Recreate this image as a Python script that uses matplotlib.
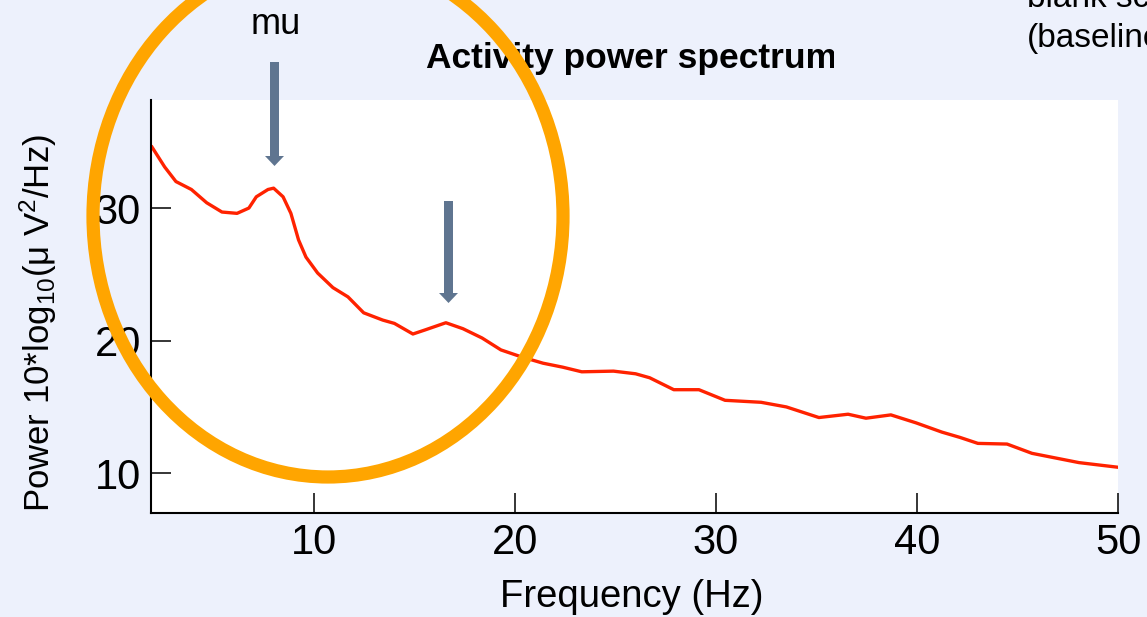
import matplotlib
matplotlib.use("Agg")
import matplotlib.pyplot as plt
from matplotlib.patches import Ellipse, FancyArrow
from matplotlib.transforms import Affine2D, Bbox

# Spectrum samples (Hz, dB)
freq_hz = [1.94, 2.57, 3.13, 3.90, 4.66, 5.42, 6.17, 6.76, 7.13, 7.71, 7.99,
           8.46, 8.85, 9.23, 9.60, 10.18, 10.94, 11.69, 12.47, 13.42, 14.0,
           14.92, 15.51, 16.56, 17.41, 18.36, 19.3, 20.27, 21.39, 22.37, 23.32,
           24.9, 26.0, 26.7, 27.9, 29.15, 30.45, 32.24, 33.5, 35.12, 36.57,
           37.46, 38.7, 39.95, 41.24, 42.14, 43.03, 44.48, 45.72, 48.06, 50.0]
power_db = [34.6, 33.1, 32.0, 31.4, 30.4, 29.7, 29.6, 30.0, 30.85, 31.4, 31.5,
            30.85, 29.6, 27.6, 26.3, 25.1, 24.0, 23.3, 22.1, 21.55, 21.3,
            20.5, 20.8, 21.35, 20.9, 20.2, 19.3, 18.8, 18.3, 18.0, 17.65,
            17.7, 17.5, 17.2, 16.3, 16.3, 15.5, 15.35, 15.0, 14.2, 14.45,
            14.15, 14.4, 13.8, 13.1, 12.7, 12.25, 12.2, 11.5, 10.8, 10.45]
x_ticks = [10, 20, 30, 40, 50]
y_ticks = [10, 20, 30]

FONT = "Liberation Sans"
plt.rcParams["font.family"] = [FONT, "DejaVu Sans"]
plt.rcParams["mathtext.fontset"] = "custom"
plt.rcParams["mathtext.rm"] = FONT
plt.rcParams["mathtext.it"] = FONT + ":italic"
plt.rcParams["mathtext.bf"] = FONT + ":bold"

W, H, DPI = 1147, 617, 100
BG = "#EDF1FC"
fig = plt.figure(figsize=(W / DPI, H / DPI), dpi=DPI, facecolor=BG)

# pixel coordinates with origin at the top-left corner
px = Affine2D().scale(1, -1).translate(0, H)

left, right, top, bottom = 150.7, 1118, 100, 513
ax = fig.add_axes([left / W, 1 - bottom / H, (right - left) / W, (bottom - top) / H])
ax.set_facecolor("white")
ax.plot(freq_hz, power_db, color="#FF2200", lw=2.4, solid_joinstyle="round")
ax.set_xlim(1.875, 50)
ax.set_ylim(7.0, 38.15)
ax.set_xticks(x_ticks)
ax.set_yticks(y_ticks)
ax.tick_params(direction="in", length=14.5, width=1.1, labelsize=30, pad=7,
               color="black")
for side in ("top", "right"):
    ax.spines[side].set_visible(False)
for side in ("left", "bottom"):
    ax.spines[side].set_linewidth(1.5)

# Axis labels and title
fig.text(632, 607, "Frequency (Hz)", fontsize=27.5, ha="center", va="baseline",
         transform=px)
fig.text(38, 323, r"Power 10*log$_{10}$(μ V$^2$/Hz)", fontsize=25,
         rotation=90, ha="center", va="center", transform=px)
title = fig.text(632, 68, "Activity power spectrum", fontsize=25.5,
                 fontweight="bold", ha="center", va="baseline", transform=px)
title.set_clip_box(Bbox.from_extents(0, 0, 834, H))
title.set_clip_on(True)

# Annotations
fig.text(276, 34, "mu", fontsize=26, ha="center", va="baseline", transform=px)
fig.text(1027, 7, "blank screen", fontsize=24, ha="left", va="baseline",
         transform=px)
fig.text(1027, 47, "(baseline)", fontsize=24, ha="left", va="baseline",
         transform=px)

ARROW = "#5F7590"
for x0, y0, y1 in [(274.5, 62, 166), (448.5, 201, 303)]:
    fig.add_artist(FancyArrow(x0, y0, 0, y1 - y0, width=9, head_width=19,
                              head_length=10, length_includes_head=True,
                              color=ARROW, lw=0, transform=px, zorder=3))

fig.add_artist(Ellipse((328, 216), 470, 522, fill=False, edgecolor="#FFA500",
                       lw=9.5, transform=px, zorder=4))

fig.savefig("out.png", dpi=DPI, facecolor=BG)
